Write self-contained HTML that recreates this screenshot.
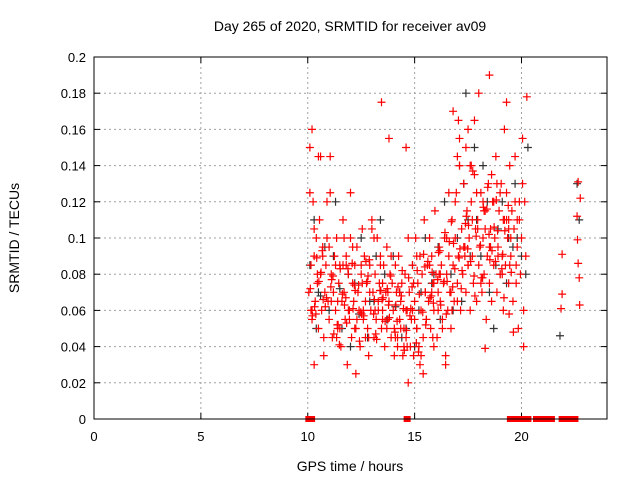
<!DOCTYPE html>
<html><head><meta charset="utf-8"><style>
body{margin:0;background:#fff}
svg{display:block;font-family:"Liberation Sans",sans-serif}
</style></head><body>
<svg id="chart" width="640" height="480">
<text x="350" y="31" font-size="14" text-anchor="middle">Day 265 of 2020, SRMTID for receiver av09</text>
<text x="350" y="471" font-size="14" text-anchor="middle">GPS time / hours</text>
<text transform="translate(19,238) rotate(-90)" font-size="14" text-anchor="middle">SRMTID / TECUs</text>
<g id="grid"></g><g id="ticks"></g><g id="pts"></g>
<rect x="94" y="57" width="513" height="362" fill="none" stroke="#000"/>
</svg>
<script>
const xTicks=[0,5,10,15,20];
const yTicks=[0,0.02,0.04,0.06,0.08,0.1,0.12,0.14,0.16,0.18,0.2];
const yTickLabels=["0","0.02","0.04","0.06","0.08","0.1","0.12","0.14","0.16","0.18","0.2"];
const blackX=[10.1,10.3,10.5,10.8,11.0,11.3,11.6,11.9,12.2,12.5,12.8,13.1,13.4,13.7,14.0,14.3,14.6,14.9,15.2,15.5,15.8,16.1,16.4,16.7,17.0,17.3,17.6,17.9,18.2,18.5,18.8,19.1,19.4,19.7,20.0,20.3,10.4,11.2,12.0,12.9,13.6,14.4,15.3,16.2,17.2,17.8,18.4,19.0,19.6,22.6,22.7,21.8,10.6,11.5,12.4,13.2,14.1,15.0,15.9,16.8,17.5,18.1,18.7,19.3,20.2,17.4,18.9,19.8];
const blackY=[0.085,0.11,0.07,0.095,0.06,0.12,0.05,0.08,0.075,0.1,0.045,0.065,0.11,0.055,0.09,0.07,0.05,0.085,0.06,0.1,0.075,0.095,0.12,0.08,0.1,0.13,0.09,0.11,0.14,0.07,0.085,0.12,0.1,0.13,0.09,0.15,0.05,0.09,0.04,0.065,0.08,0.045,0.07,0.055,0.065,0.15,0.12,0.08,0.095,0.13,0.11,0.046,0.068,0.072,0.058,0.09,0.062,0.04,0.08,0.06,0.11,0.09,0.05,0.075,0.08,0.18,0.105,0.1];
const redX=[10.05,10.1,10.15,10.2,10.25,10.3,10.35,10.4,10.45,10.5,10.55,10.6,10.65,10.7,10.75,10.8,10.85,10.9,10.95,11.0,11.05,11.1,11.15,11.2,11.25,11.3,11.35,11.4,11.45,11.5,11.55,11.6,11.65,11.7,11.75,11.8,11.85,11.9,11.95,12.0,12.05,12.1,12.15,12.2,12.25,12.3,12.35,12.4,12.45,12.5,12.55,12.6,12.65,12.7,12.75,12.8,12.85,12.9,12.95,13.0,13.05,13.1,13.15,13.2,13.25,13.3,13.35,13.4,13.45,13.5,13.55,13.6,13.65,13.7,13.75,13.8,13.85,13.9,13.95,14.0,14.05,14.1,14.15,14.2,14.25,14.3,14.35,14.4,14.45,14.5,14.55,14.6,14.65,14.7,14.75,14.8,14.85,14.9,14.95,15.0,15.05,15.1,15.15,15.2,15.25,15.3,15.35,15.4,15.45,15.5,15.55,15.6,15.65,15.7,15.75,15.8,15.85,15.9,15.95,16.0,16.05,16.1,16.15,16.2,16.25,16.3,16.35,16.4,16.45,16.5,16.55,16.6,16.65,16.7,16.75,16.8,16.85,16.9,16.95,17.0,17.05,17.1,17.15,17.2,17.25,17.3,17.35,17.4,17.45,17.5,17.55,17.6,17.65,17.7,17.75,17.8,17.85,17.9,17.95,18.0,18.05,18.1,18.15,18.2,18.25,18.3,18.35,18.4,18.45,18.5,18.55,18.6,18.65,18.7,18.75,18.8,18.85,18.9,18.95,19.0,19.05,19.1,19.15,19.2,19.25,19.3,19.35,19.4,19.45,19.5,19.55,19.6,19.65,19.7,19.75,19.8,19.85,19.9,19.95,20.0,20.05,20.1,20.15,20.2,20.25,
10.1,10.2,10.3,10.5,10.7,10.9,11.1,11.3,11.5,11.7,11.9,12.1,12.3,12.5,12.7,12.9,13.1,13.3,13.5,13.7,13.9,14.1,14.3,14.5,14.7,14.9,15.1,15.3,15.5,15.7,15.9,16.1,16.3,16.5,16.7,16.9,17.1,17.3,17.5,17.7,17.9,18.1,18.3,18.5,18.7,18.9,19.1,19.3,19.5,19.7,19.9,20.1,
10.15,10.45,10.75,11.05,11.35,11.65,11.95,12.25,12.55,12.85,13.15,13.45,13.75,14.05,14.35,14.65,14.95,15.25,15.55,15.85,16.15,16.45,16.75,17.05,17.35,17.65,17.95,18.25,18.55,18.85,19.15,19.45,19.75,20.05,
10.2,10.6,11.0,11.4,11.8,12.2,12.6,13.0,13.4,13.8,14.2,14.6,15.0,15.4,15.8,16.2,16.6,17.0,17.4,17.8,18.2,18.6,19.0,19.4,19.8,10.3,12.0,13.5,14.6,15.1,15.9,16.8,17.0,17.5,18.0,18.5,19.2,19.3,19.4,17.1,17.6,18.3,
21.85,21.9,21.9,22.62,22.65,22.7,22.75,22.6,22.65,22.72,
10.12,10.38,10.62,10.88,11.12,11.38,11.62,11.88,12.12,12.38,12.62,12.88,13.12,13.38,13.62,13.88,14.12,14.38,14.62,14.88,15.12,15.38,15.62,15.88,16.12,16.38,16.62,16.88,17.12,17.38,17.62,17.88,18.12,18.38,18.62,18.88,19.12,19.38,19.62,
10.22,10.52,10.82,11.22,11.52,11.82,12.22,12.52,12.82,13.22,13.52,13.82,14.22,14.52,14.82,15.22,15.52,15.82,16.22,16.52,16.82,17.22,17.52,17.82,18.22,18.52,18.82,19.22,19.52,
10.32,10.68,11.08,11.42,11.78,12.08,12.42,12.78,13.08,13.42,13.78,14.08,14.42,14.78,15.08,15.42,15.78,16.08,16.42,16.78,17.08,17.42,17.78,18.08,18.42,18.78,19.08,19.42,
10.42,10.72,11.18,11.48,11.72,12.18,12.48,12.72,13.18,13.48,13.72,14.18,14.48,14.72,15.18,15.48,15.72,16.18,16.48,16.72,17.18,17.48,17.72,18.18,18.48,18.72,19.18,19.48,
10.05,10.12,10.18,14.65,19.75,19.85,19.95,20.05,20.15,20.3,20.7,20.8,20.9,21.0,21.1,21.2,21.3,21.4,21.9,22.0,22.1,22.2,22.25,22.4,22.5,22.9];
const redY=[0.07,0.15,0.085,0.055,0.12,0.09,0.065,0.1,0.075,0.05,0.11,0.08,0.06,0.095,0.045,0.07,0.085,0.1,0.065,0.055,0.125,0.08,0.045,0.07,0.09,0.06,0.1,0.05,0.075,0.085,0.04,0.065,0.11,0.07,0.055,0.09,0.03,0.08,0.06,0.1,0.045,0.075,0.065,0.085,0.05,0.095,0.07,0.06,0.04,0.08,0.105,0.055,0.09,0.065,0.075,0.05,0.035,0.085,0.06,0.11,0.07,0.045,0.08,0.055,0.1,0.065,0.075,0.09,0.05,0.06,0.085,0.04,0.07,0.095,0.055,0.065,0.08,0.045,0.075,0.06,0.05,0.085,0.07,0.04,0.09,0.055,0.065,0.075,0.035,0.05,0.08,0.045,0.06,0.02,0.07,0.04,0.055,0.085,0.035,0.065,0.1,0.05,0.075,0.04,0.09,0.06,0.08,0.045,0.11,0.07,0.055,0.085,0.065,0.1,0.05,0.09,0.075,0.06,0.115,0.08,0.045,0.07,0.095,0.065,0.085,0.055,0.075,0.1,0.03,0.08,0.06,0.09,0.07,0.05,0.11,0.085,0.065,0.1,0.125,0.075,0.09,0.14,0.06,0.105,0.08,0.13,0.095,0.07,0.115,0.085,0.1,0.06,0.12,0.09,0.075,0.135,0.105,0.065,0.11,0.085,0.095,0.125,0.07,0.1,0.08,0.115,0.055,0.09,0.13,0.075,0.105,0.065,0.12,0.085,0.1,0.145,0.07,0.095,0.115,0.08,0.13,0.09,0.06,0.11,0.085,0.125,0.1,0.075,0.14,0.09,0.115,0.065,0.105,0.12,0.085,0.095,0.05,0.11,0.08,0.1,0.13,0.06,0.12,0.09,
0.178,0.125,0.16,0.105,0.145,0.09,0.12,0.065,0.085,0.05,0.1,0.06,0.095,0.055,0.085,0.045,0.07,0.1,0.06,0.075,0.05,0.09,0.045,0.07,0.04,0.1,0.06,0.05,0.035,0.07,0.085,0.04,0.06,0.05,0.1,0.07,0.12,0.14,0.095,0.085,0.11,0.125,0.075,0.105,0.095,0.12,0.09,0.08,0.11,0.1,0.145,0.12,
0.04,0.06,0.08,0.035,0.145,0.045,0.085,0.055,0.025,0.075,0.045,0.06,0.175,0.07,0.035,0.05,0.04,0.075,0.03,0.055,0.045,0.08,0.035,0.06,0.165,0.09,0.14,0.105,0.115,0.095,0.13,0.11,0.085,0.075,
0.155,0.06,0.145,0.095,0.065,0.085,0.05,0.06,0.105,0.085,0.155,0.045,0.06,0.055,0.025,0.07,0.08,0.125,0.065,0.15,0.165,0.12,0.135,0.125,0.105,0.11,0.03,0.125,0.055,0.15,0.09,0.075,0.17,0.145,0.16,0.18,0.19,0.16,0.175,0.11,0.155,0.14,
0.039,0.061,0.091,0.069,0.099,0.131,0.078,0.122,0.112,0.086,
0.063,0.072,0.058,0.081,0.067,0.077,0.052,0.069,0.083,0.061,0.074,0.057,0.088,0.066,0.071,0.054,0.079,0.063,0.068,0.049,0.073,0.082,0.059,0.087,0.064,0.092,0.076,0.098,0.083,0.094,0.108,0.087,0.101,0.078,0.116,0.093,0.104,0.091,0.118,
0.048,0.057,0.076,0.062,0.047,0.083,0.053,0.071,0.058,0.079,0.044,0.067,0.056,0.073,0.038,0.061,0.069,0.052,0.081,0.063,0.076,0.097,0.082,0.107,0.068,0.117,0.088,0.121,0.104,
0.081,0.062,0.093,0.073,0.052,0.067,0.086,0.043,0.076,0.058,0.071,0.063,0.048,0.082,0.057,0.042,0.091,0.068,0.077,0.103,0.073,0.089,0.112,0.079,0.096,0.128,0.087,0.083,
0.058,0.089,0.066,0.079,0.041,0.063,0.074,0.059,0.087,0.047,0.066,0.072,0.054,0.061,0.078,0.037,0.084,0.067,0.093,0.058,0.109,0.072,0.094,0.137,0.078,0.102,0.106,0.067,
0,0,0,0,0,0,0,0,0,0,0,0,0,0,0,0,0,0,0,0,0,0,0,0,0,0];
const NS="http://www.w3.org/2000/svg";
const X0=94,X1=607,Y0=419,Y1=57;
function sx(v){return X0+(v/24)*(X1-X0);}
function sy(v){return Y0-(v/0.2)*(Y0-Y1);}
const grid=document.getElementById('grid'),ticks=document.getElementById('ticks'),pts=document.getElementById('pts');
function mk(t,a,p){const e=document.createElementNS(NS,t);for(const k in a)e.setAttribute(k,a[k]);p.appendChild(e);return e;}
xTicks.forEach(v=>{const x=sx(v);
 if(v>0){const g=mk('line',{x1:x,x2:x,y1:Y1,y2:Y0,stroke:'#a0a0a0','stroke-dasharray':'2,3'},grid);
 
 }
 const t=mk('text',{x:x,y:441,'font-size':13,'text-anchor':'middle'},ticks);t.textContent=v;
 
 
 mk('line',{x1:x,x2:x,y1:Y0,y2:Y0-6,stroke:'#000'},ticks);mk('line',{x1:x,x2:x,y1:Y1,y2:Y1+6,stroke:'#000'},ticks);});
yTicks.forEach((v,i)=>{const y=sy(v);
 if(v>0&&v<0.2){const g=mk('line',{x1:X0,x2:X1,y1:y,y2:y,stroke:'#a0a0a0','stroke-dasharray':'2,3'},grid);
 
 }
 const t=mk('text',{x:86,y:y+5,'font-size':13,'text-anchor':'end'},ticks);t.textContent=yTickLabels[i];
 
 
 mk('line',{x1:X0,x2:X0+6,y1:y,y2:y,stroke:'#000'},ticks);mk('line',{x1:X1,x2:X1-6,y1:y,y2:y,stroke:'#000'},ticks);});
function plus(x,y,c,name,h){const p=mk('path',{d:`M${x-h},${y}h${2*h}M${x},${y-h}v${2*h}`,stroke:c,'stroke-width':1.2,fill:'none'},pts);
 
 }
blackX.forEach((v,i)=>plus(sx(v),sy(blackY[i]),'#333','black-point',4));
redX.forEach((v,i)=>{const y=redY[i];
 if(y===0){const r=mk('rect',{x:sx(v)-3.5,y:Y0-3,width:7,height:6,fill:'#ff0000'},pts);
 
 }
 else plus(sx(v),sy(y),'#ff0000','red-point',4);});
</script>
</body></html>
